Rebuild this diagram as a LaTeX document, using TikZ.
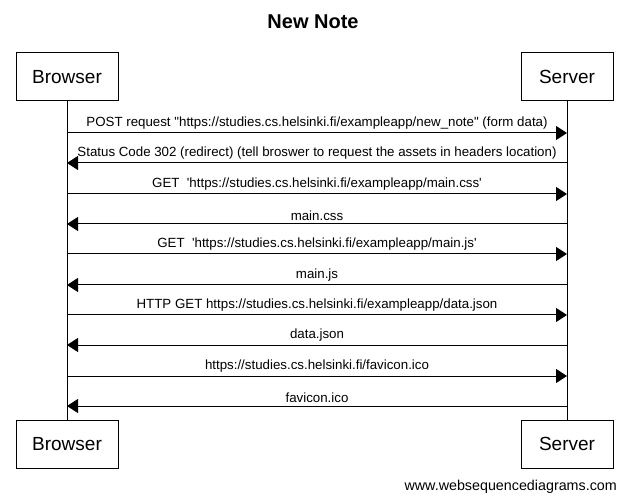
\documentclass[tikz,border=0pt]{standalone}
\usepackage{fontspec}
\setmainfont{Liberation Sans}
\usetikzlibrary{arrows.meta}
\begin{document}
\begin{tikzpicture}[x=1pt,y=-1pt,
  actor/.style={draw, line width=1pt, inner sep=0pt, minimum height=48pt, font=\fontsize{19}{22}\selectfont},
  msg/.style={line width=1pt, -{Triangle[length=11pt,width=14pt]}},
  lbl/.style={font=\fontsize{13.3}{15}\selectfont, inner sep=0pt, above=3pt},
  life/.style={line width=1pt}]
\useasboundingbox (0,0) rectangle (626,502);
\node[font=\bfseries\fontsize{20}{22}\selectfont] (title) at (313,22) {New Note};
\node[actor, minimum width=102pt] (bt) at (67,77) {Browser};
\node[actor, minimum width=92pt] (st) at (567,77) {Server};
\node[actor, minimum width=102pt] (bb) at (67,444) {Browser};
\node[actor, minimum width=92pt] (sb) at (567,444) {Server};
\draw[life] (bt.south) -- (bb.north);
\draw[life] (st.south) -- (sb.north);
\foreach \i/\y in {1/133,2/163,3/194,4/224,5/254,6/285,7/315,8/345,9/376,10/406}{
  \coordinate (b\i) at (67,\y);
  \coordinate (s\i) at (567,\y);
}
\draw[msg] (b1) -- (s1) node[lbl, midway] {POST request \textquotedbl https://studies.cs.helsinki.fi/exampleapp/new\_note\textquotedbl{} (form data)};
\draw[msg] (s2) -- (b2) node[lbl, midway] {Status Code 302 (redirect) (tell broswer to request the assets in headers location)};
\draw[msg] (b3) -- (s3) node[lbl, midway] {GET\ \ \textquotesingle https://studies.cs.helsinki.fi/exampleapp/main.css\textquotesingle};
\draw[msg] (s4) -- (b4) node[lbl, midway] {main.css};
\draw[msg] (b5) -- (s5) node[lbl, midway] {GET\ \ \textquotesingle https://studies.cs.helsinki.fi/exampleapp/main.js\textquotesingle};
\draw[msg] (s6) -- (b6) node[lbl, midway] {main.js};
\draw[msg] (b7) -- (s7) node[lbl, midway] {HTTP GET https://studies.cs.helsinki.fi/exampleapp/data.json};
\draw[msg] (s8) -- (b8) node[lbl, midway] {data.json};
\draw[msg] (b9) -- (s9) node[lbl, midway] {https://studies.cs.helsinki.fi/favicon.ico};
\draw[msg] (s10) -- (b10) node[lbl, midway] {favicon.ico};
\node[anchor=east, font=\fontsize{14.3}{16}\selectfont, inner sep=0pt] (wm) at (617,487) {www.websequencediagrams.com};
\end{tikzpicture}
\end{document}
